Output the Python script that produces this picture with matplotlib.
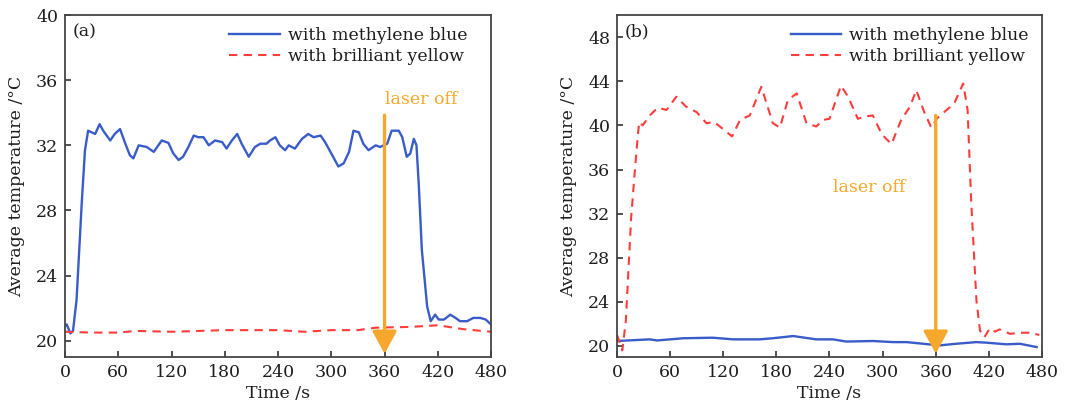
import numpy as np
import matplotlib.pyplot as plt

# panel (a): temperature traces
time_a_blue = [0, 2, 6, 9, 13, 19, 22.5, 26, 30, 34, 39, 43, 51, 56, 62, 68, 73, 77, 83, 92,
               100, 109, 116.5, 122, 128, 133, 139, 145, 150, 156, 162, 169, 177, 182, 188,
               194, 199, 207, 214, 220, 227, 231, 237, 242, 248, 252, 259, 267, 274, 280,
               288, 293, 301, 308, 314, 320, 325, 331, 336, 342, 350, 355, 363, 368, 376,
               380, 385, 389, 393, 396, 398.5, 402, 408, 412, 417, 421, 427, 434, 440, 445,
               453, 460, 468, 474, 479]
temp_a_blue = [20.9, 21.0, 20.45, 20.6, 22.5, 28.6, 31.7, 32.9, 32.8, 32.7, 33.3, 32.9, 32.3,
               32.7, 33.0, 32.1, 31.4, 31.2, 32.0, 31.9, 31.6, 32.3, 32.15, 31.5, 31.1, 31.3,
               31.9, 32.6, 32.5, 32.5, 32.0, 32.3, 32.2, 31.8, 32.3, 32.7, 32.1, 31.3, 31.9,
               32.1, 32.1, 32.3, 32.5, 32.0, 31.7, 32.0, 31.8, 32.4, 32.7, 32.5, 32.6, 32.2,
               31.4, 30.7, 30.9, 31.6, 32.9, 32.8, 32.1, 31.7, 32.0, 31.9, 32.1, 32.9, 32.9,
               32.5, 31.3, 31.5, 32.4, 32.0, 29.65, 25.6, 22.1, 21.2, 21.6, 21.3, 21.3, 21.6,
               21.4, 21.2, 21.2, 21.4, 21.4, 21.3, 21.05]
time_a_red = [0, 30, 60, 80, 120, 180, 240, 270, 300, 330, 350, 390, 420, 450, 480]
temp_a_red = [20.55, 20.5, 20.5, 20.6, 20.55, 20.65, 20.65, 20.55, 20.65, 20.65, 20.8, 20.85,
              20.95, 20.7, 20.55]

# panel (b): temperature traces
time_b_blue = [0, 37, 45, 75, 108, 131, 161, 176, 199, 225, 244, 259, 289, 312, 327, 346, 364,
               383, 406, 417, 440, 455, 474]
temp_b_blue = [20.45, 20.6, 20.5, 20.7, 20.75, 20.6, 20.6, 20.7, 20.9, 20.6, 20.6, 20.4, 20.45,
               20.35, 20.35, 20.2, 20.05, 20.2, 20.35, 20.3, 20.15, 20.2, 19.9]
time_b_red = [0, 6, 10, 16, 22, 25, 29, 37, 46, 56, 67, 78, 90, 101, 110, 130, 139, 150, 163,
              176, 184, 193, 203, 214, 225, 233, 240, 253, 261, 272, 280, 289, 299, 310, 321,
              331, 338, 347, 355, 361, 368, 381, 391, 396, 400, 406, 410, 415, 421, 427, 432,
              444, 455, 466, 477]
temp_b_red = [21.0, 19.6, 22.3, 31.7, 37.7, 40.3, 40.0, 40.9, 41.6, 41.4, 42.6, 41.7, 41.2,
              40.2, 40.3, 39.0, 40.5, 40.9, 43.5, 40.2, 39.8, 42.3, 42.9, 40.2, 39.9, 40.5,
              40.6, 43.6, 42.6, 40.6, 40.8, 40.9, 39.2, 38.3, 40.5, 41.7, 43.2, 41.2, 39.8,
              40.6, 41.1, 42.0, 43.8, 41.4, 33.2, 24.1, 21.4, 20.8, 21.6, 21.3, 21.5, 21.1,
              21.2, 21.2, 21.0]

laser_off = 360
x_ticks = np.arange(0, 481, 60)

blue = '#3a5cc8'
red = '#ff3c3c'
orange = '#f5a82c'
ink = '#1e1e1e'
fs = 12.5

plt.rcParams['font.family'] = ['DejaVu Serif']
plt.rcParams['font.size'] = fs
plt.rcParams['text.color'] = ink
plt.rcParams['axes.labelcolor'] = ink

fig = plt.figure(figsize=(10.71, 4.08), dpi=100)
ax_a = fig.add_axes([0.0607, 0.125, 0.3978, 0.838])
ax_b = fig.add_axes([0.5761, 0.125, 0.3968, 0.838])


def style_axes(ax, ylim, yticks, tag, legend_x):
    ax.set_xlim(0, 480)
    ax.set_ylim(*ylim)
    ax.set_xticks(x_ticks)
    ax.set_yticks(yticks)
    ax.tick_params(direction='in', length=4, width=1.2, color='#333333',
                   labelcolor=ink, top=False, right=False, labelsize=fs, pad=5)
    for sp in ax.spines.values():
        sp.set_color('#444444')
        sp.set_linewidth(1.3)
    ax.set_xlabel('Time /s', labelpad=3)
    ax.set_ylabel('Average temperature /°C', labelpad=8)
    ax.text(0.017, 0.95, tag, transform=ax.transAxes, va='center', ha='left',
            fontsize=fs)
    ax.legend(loc='upper right', bbox_to_anchor=(legend_x, 0.985), frameon=False,
              handlelength=2.9, handletextpad=0.45, labelspacing=0.2,
              fontsize=fs, borderaxespad=0)


def laser_arrow(ax, y_from, y_to):
    ax.annotate('', xy=(laser_off, y_to), xytext=(laser_off, y_from),
                arrowprops=dict(arrowstyle='-|>,head_length=1.1,head_width=0.6',
                                color=orange, lw=2.4, shrinkA=0, shrinkB=0))


# (a)
ax_a.plot(time_a_blue, temp_a_blue, color=blue, lw=1.7, label='with methylene blue')
ax_a.plot(time_a_red, temp_a_red, color=red, lw=1.5, dashes=(4, 3),
          label='with brilliant yellow')
laser_arrow(ax_a, 33.85, 19.2)
ax_a.text(laser_off + 1, 34.8, 'laser off', color=orange, fontsize=fs, va='center',
          ha='left')
style_axes(ax_a, (19, 40), np.arange(20, 41, 4), '(a)', 0.96)

# (b)
ax_b.plot(time_b_blue, temp_b_blue, color=blue, lw=1.7, label='with methylene blue')
ax_b.plot(time_b_red, temp_b_red, color=red, lw=1.5, dashes=(4, 3),
          label='with brilliant yellow')
laser_arrow(ax_b, 40.9, 19.3)
ax_b.text(244, 34.35, 'laser off', color=orange, fontsize=fs, va='center', ha='left')
style_axes(ax_b, (19, 50), np.arange(20, 49, 4), '(b)', 0.985)

fig.savefig('out.png', dpi=100)
